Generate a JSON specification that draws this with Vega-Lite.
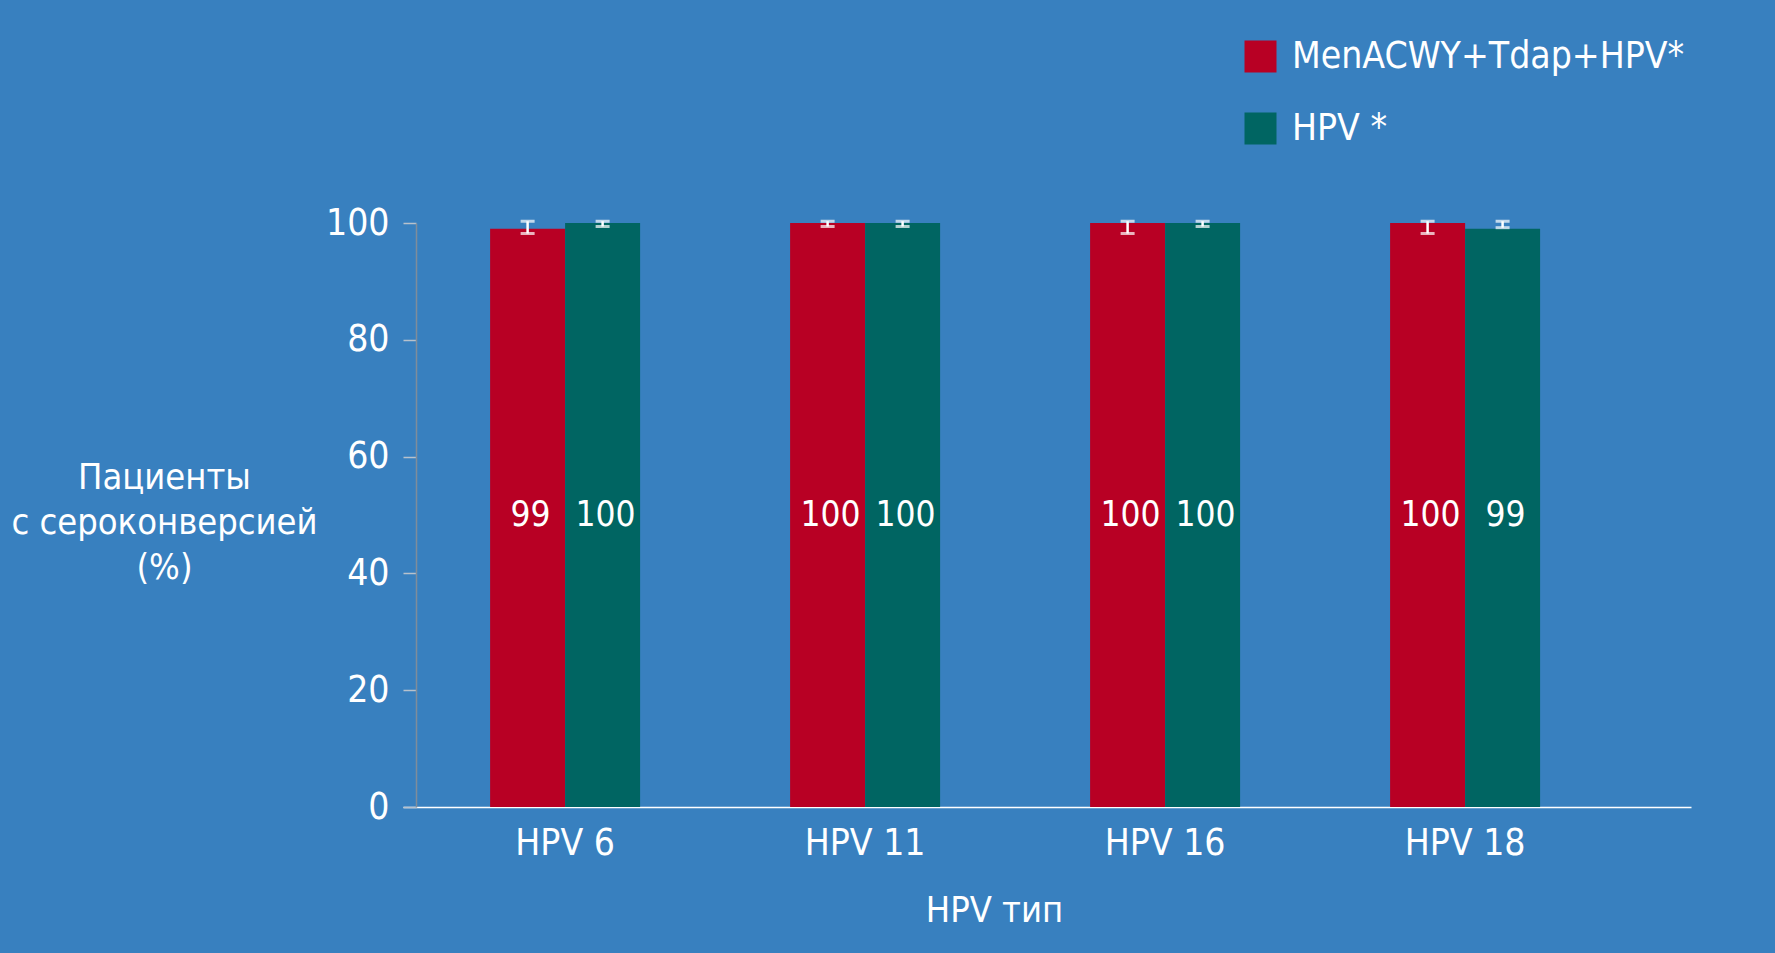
{
  "$schema": "https://vega.github.io/schema/vega-lite/v6.json",
  "width": 1288,
  "height": 584,
  "autosize": {"type": "none"},
  "padding": {"left": 403, "top": 223, "right": 84, "bottom": 146},
  "background": "#3880bf",
  "data": {
    "values": [
      {"group": "HPV 6", "series": "MenACWY+Tdap+HPV*", "value": 99, "lo": 98.2, "hi": 100.3},
      {"group": "HPV 6", "series": "HPV *", "value": 100, "lo": 99.4, "hi": 100.3},
      {"group": "HPV 11", "series": "MenACWY+Tdap+HPV*", "value": 100, "lo": 99.4, "hi": 100.3},
      {"group": "HPV 11", "series": "HPV *", "value": 100, "lo": 99.4, "hi": 100.3},
      {"group": "HPV 16", "series": "MenACWY+Tdap+HPV*", "value": 100, "lo": 98.2, "hi": 100.3},
      {"group": "HPV 16", "series": "HPV *", "value": 100, "lo": 99.4, "hi": 100.3},
      {"group": "HPV 18", "series": "MenACWY+Tdap+HPV*", "value": 100, "lo": 98.2, "hi": 100.3},
      {"group": "HPV 18", "series": "HPV *", "value": 99, "lo": 99.2, "hi": 100.3}
    ]
  },
  "encoding": {
    "x": {
      "field": "group",
      "type": "nominal",
      "sort": ["HPV 6", "HPV 11", "HPV 16", "HPV 18"],
      "scale": {"paddingInner": 0.5, "paddingOuter": 0.3967, "align": 0.366},
      "axis": {
        "title": "HPV тип",
        "labelAngle": 0,
        "ticks": false,
        "domainColor": "#ffffff",
        "domainWidth": 1.5,
        "labelFontSize": 37,
        "labelColor": "#ffffff",
        "labelPadding": 18,
        "titleFontSize": 36,
        "titleFontWeight": "normal",
        "titleColor": "#ffffff",
        "titleX": 591,
        "titleY": 114,
        "titleAlign": "center",
        "titleBaseline": "alphabetic"
      }
    },
    "xOffset": {
      "field": "series",
      "type": "nominal",
      "sort": ["MenACWY+Tdap+HPV*", "HPV *"],
      "scale": {"paddingInner": 0, "paddingOuter": 0}
    }
  },
  "layer": [
    {
      "mark": {"type": "bar"},
      "encoding": {
        "y": {
          "field": "value",
          "type": "quantitative",
          "stack": null,
          "scale": {"domain": [0, 100], "nice": false},
          "axis": {
            "values": [0, 20, 40, 60, 80, 100],
            "grid": false,
            "offset": -13,
            "tickSize": 13,
            "tickColor": "#b8c2cc",
            "tickWidth": 1.5,
            "domainColor": "#7f8d9a",
            "domainWidth": 1.5,
            "labelFontSize": 37,
            "labelColor": "#ffffff",
            "labelPadding": 14,
            "title": ["Пациенты", "с сероконверсией", "(%)"],
            "titleAngle": 0,
            "titleFontSize": 36,
            "titleFontWeight": "normal",
            "titleColor": "#ffffff",
            "titleAlign": "center",
            "titleBaseline": "middle",
            "titleLineHeight": 45,
            "titleX": -252,
            "titleY": 254
          }
        },
        "color": {
          "field": "series",
          "type": "nominal",
          "sort": ["MenACWY+Tdap+HPV*", "HPV *"],
          "scale": {"domain": ["MenACWY+Tdap+HPV*", "HPV *"], "range": ["#b80024", "#006562"]},
          "legend": {
            "title": null,
            "orient": "none",
            "legendX": 839,
            "legendY": -185,
            "padding": 0,
            "symbolType": "square",
            "symbolSize": 1024,
            "symbolStrokeWidth": 0,
            "symbolOpacity": 1,
            "labelFontSize": 37,
            "labelColor": "#ffffff",
            "labelOffset": 13,
            "rowPadding": 34,
            "labelLimit": 600
          }
        }
      }
    },
    {
      "mark": {"type": "rule", "color": "#ffffff", "strokeWidth": 2.5},
      "encoding": {
        "y": {"field": "lo", "type": "quantitative"},
        "y2": {"field": "hi"}
      }
    },
    {
      "mark": {"type": "tick", "color": "#ffffff", "size": 14, "thickness": 3, "orient": "horizontal"},
      "encoding": {
        "y": {"field": "lo", "type": "quantitative"}
      }
    },
    {
      "mark": {"type": "tick", "color": "#ffffff", "size": 14, "thickness": 3, "orient": "horizontal"},
      "encoding": {
        "y": {"field": "hi", "type": "quantitative"}
      }
    },
    {
      "mark": {"type": "text", "color": "#ffffff", "fontSize": 35, "baseline": "middle", "align": "center", "dx": 3},
      "encoding": {
        "y": {"datum": 50},
        "text": {"field": "value", "type": "quantitative"}
      }
    }
  ],
  "config": {
    "font": "DejaVu Sans Condensed",
    "view": {"stroke": null},
    "axis": {"grid": false}
  }
}
